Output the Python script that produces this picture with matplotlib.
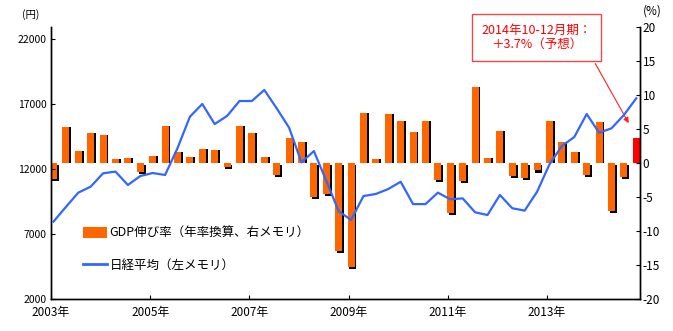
import matplotlib
matplotlib.use("Agg")
import matplotlib.pyplot as plt
from matplotlib.patches import Patch
from matplotlib.lines import Line2D

plt.rcParams['font.family'] = ['Noto Sans CJK JP', 'DejaVu Sans']

# quarterly data 2003Q1 - 2014Q4
gdp = [-2.3, 5.3, 1.8, 4.4, 4.1, 0.6, 0.7, -1.3,
       1.0, 5.5, 1.6, 0.9, 2.1, 1.9, -0.6, 5.5,
       4.4, 0.9, -1.8, 3.7, 3.1, -5.0, -4.5, -13.0,
       -15.3, 7.4, 0.6, 7.2, 6.2, 4.6, 6.2, -2.5,
       -7.4, -2.7, 11.2, 0.7, 4.7, -1.9, -2.2, -1.1,
       6.2, 3.1, 1.6, -1.7, 6.0, -7.0, -2.1, 3.7]
nikkei = [7950, 9080, 10180, 10640, 11670, 11800, 10770, 11460,
          11690, 11540, 13600, 16020, 17000, 15460, 16080, 17230,
          17230, 18080, 16670, 15180, 12510, 13380, 11100, 8750,
          8080, 9920, 10080, 10460, 11020, 9300, 9300, 10180,
          9670, 9740, 8670, 8460, 10000, 8980, 8800, 10250,
          12360, 13770, 14460, 16230, 14790, 15130, 16150, 17440]
year_labels = ['2003年', '2005年', '2007年', '2009年', '2011年', '2013年']
left_ticks = [2000, 7000, 12000, 17000, 22000]
right_ticks = [-20, -15, -10, -5, 0, 5, 10, 15, 20]

orange = '#ff6600'
blue = '#3366ff'
x = list(range(len(gdp)))
colors = [orange] * (len(gdp) - 1) + ['#ff0000']

fig = plt.figure(figsize=(6.73, 3.31), dpi=100)
ax = fig.add_axes([51 / 673, 1 - 299 / 331, 589 / 673, 272 / 331])
ax2 = ax.twinx()
ax.set_zorder(ax2.get_zorder() + 1)
ax.patch.set_visible(False)

# bars on the right scale, black shadow first (pushed down only for negative bars)
shadow_bottom = [-0.3 if v < 0 else 0 for v in gdp]
ax2.bar([v + 0.15 for v in x], gdp, width=0.56, bottom=shadow_bottom, color='black', zorder=1)
ax2.bar(x, gdp, width=0.56, color=colors, zorder=2)
ax2.set_ylim(-20, 20)
ax2.set_yticks(right_ticks)
ax2.set_yticklabels([str(t) for t in right_ticks])

ax.plot(x, nikkei, color=blue, lw=1.6, zorder=3)
ax.set_ylim(2000, 22923)
ax.set_yticks(left_ticks)
ax.set_xlim(-0.15, 47.3)
ax.set_xticks([8 * k - 0.2 for k in range(len(year_labels))])
ax.set_xticklabels(year_labels, fontsize=8.5)

for a in (ax, ax2):
    a.spines['top'].set_visible(False)
    for s in a.spines.values():
        s.set_linewidth(1.0)
ax.tick_params(axis='y', direction='in', length=3, labelsize=7.5, pad=3)
ax.tick_params(axis='x', direction='in', length=3, pad=5)
ax2.tick_params(axis='y', direction='in', length=3, labelsize=8.5, pad=2)

fig.text(22 / 673, 1 - 15 / 331, '(円)', fontsize=7.5, va='center', ha='left')
fig.text(643 / 673, 1 - 11 / 331, '(%)', fontsize=8.5, va='center', ha='left')

handles = [Patch(facecolor=orange, edgecolor='none'), Line2D([], [], color=blue, lw=2)]
ax.legend(handles, ['GDP伸び率（年率換算、右メモリ）', '日経平均（左メモリ）'],
          loc='upper left', bbox_to_anchor=(0.054, 0.265), frameon=False,
          fontsize=9, handlelength=1.9, handleheight=0.9, handletextpad=0.25,
          labelspacing=1.5, borderpad=0, borderaxespad=0)

ax2.annotate('2014年10-12月期：\n＋3.7%（予想）', xy=(46.5, 5.5), xycoords='data',
             xytext=(536.5 / 673, 1 - 37.5 / 331), textcoords='figure fraction',
             ha='center', va='center', color='#ff0000', fontsize=9, linespacing=1.15,
             bbox=dict(boxstyle='square,pad=0.75', facecolor='white', edgecolor='#f04848', lw=1),
             arrowprops=dict(arrowstyle='-|>', color='#ff2020', lw=0.8,
                             relpos=(0.97, 0.0), mutation_scale=8),
             zorder=5)

fig.savefig('out.png', dpi=100)
